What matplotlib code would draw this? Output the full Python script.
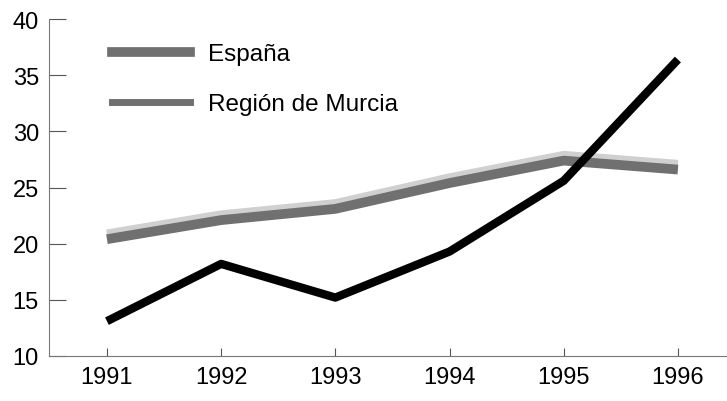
import matplotlib.pyplot as plt
import matplotlib.patheffects as pe
from matplotlib.lines import Line2D

years = [1991, 1992, 1993, 1994, 1995, 1996]
espana = [20.4, 22.1, 23.1, 25.4, 27.4, 26.6]
murcia = [13.1, 18.2, 15.2, 19.3, 25.6, 36.4]
yticks = [10, 15, 20, 25, 30, 35, 40]

plt.rcParams['font.family'] = ['Liberation Sans', 'DejaVu Sans']

fig = plt.figure(figsize=(7.27, 4.02), dpi=100)
ax = fig.add_axes([0.067, 0.112, 0.933, 0.838])

shadow = [pe.SimpleLineShadow(offset=(0, 3.5), shadow_color='#d0d0d0', alpha=1), pe.Normal()]
ax.plot(years, espana, color='#707070', lw=7, solid_capstyle='butt', path_effects=shadow, zorder=2)
ax.plot(years, murcia, color='black', lw=6, solid_capstyle='butt', zorder=3)

ax.set_xlim(1990.49, 1996.43)
ax.set_ylim(10, 40)
ax.set_xticks(years)
ax.set_yticks(yticks)
ax.tick_params(axis='x', direction='in', length=6, width=0.8, color='#555555', pad=7, labelsize=17)
ax.tick_params(axis='y', direction='in', length=12, width=0.8, color='#555555', pad=7, labelsize=17)
for s in ['top', 'right']:
    ax.spines[s].set_visible(False)
for s in ['left', 'bottom']:
    ax.spines[s].set_color('#777777')
    ax.spines[s].set_linewidth(0.8)

handles = [Line2D([], [], color='#707070', lw=7),
           Line2D([], [], color='#707070', lw=5)]
ax.legend(handles, ['España', 'Región de Murcia'], loc='upper left',
          bbox_to_anchor=(0.075, 0.965), frameon=False, fontsize=17.5,
          handlelength=3.2, handletextpad=0.75, labelspacing=1.15, borderpad=0)

fig.savefig('out.png', dpi=100)
